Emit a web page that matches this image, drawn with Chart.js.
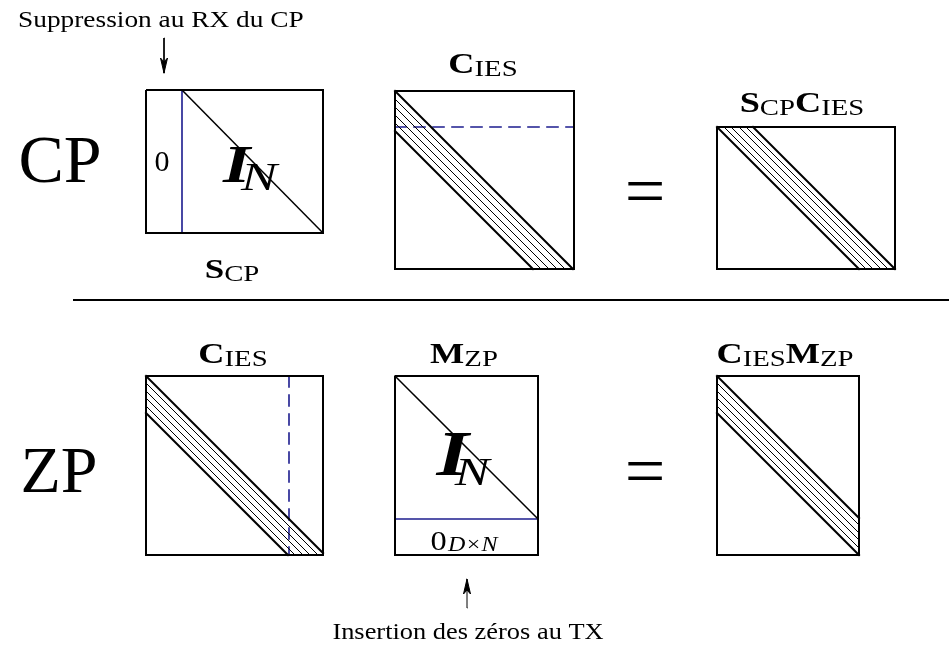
<!DOCTYPE html>
<html>
<head>
<meta charset="utf-8">
<script src="https://cdn.jsdelivr.net/npm/chart.js@4.4.0/dist/chart.umd.min.js"></script>
<style>
  html, body { margin: 0; padding: 0; background: #fff; }
  #wrap { width: 949px; height: 649px; position: relative; }
</style>
</head>
<body>
<div id="wrap"><canvas id="diagram"></canvas></div>
<script>
// Everything lives in one 949 x 649 data space (y grows downwards).
const BLUE = '#1c1c8e';
const SERIF = '"Liberation Serif", "DejaVu Serif", serif';

// matrix boxes: [left, top, right, bottom]
const boxes = [
  [146, 90, 323, 233],   // S_CP
  [395, 91, 574, 269],   // C_IES (top)
  [717, 127, 895, 269],  // S_CP C_IES
  [146, 376, 323, 555],  // C_IES (bottom)
  [395, 376, 538, 555],  // M_ZP
  [717, 376, 859, 555]   // C_IES M_ZP
];
// identity diagonals [x0, y0, x1, y1]
const identityDiagonals = [
  [182, 90, 323, 233],
  [395, 376, 538, 519]
];
// banded matrices: which box, and the offsets (y - x from its top-left corner) of the band lines
const bandBoxes = [1, 2, 3, 5];
const bandOffsets = [
  [0, 8, 16, 24, 32, 40],
  [0, -7, -14, -22, -29, -36],
  [0, 7, 15, 22, 30, 37],
  [0, 7, 15, 22, 30, 37]
];
const solidBlue = [[182, 90, 182, 233], [395, 519, 538, 519]];
const dashedBlue = [[395, 127, 574, 127], [289, 376, 289, 555]];
const separator = [74, 300, 949, 300];
// arrows: tail -> tip
const arrows = [[164, 38, 164, 73], [467, 608, 467, 579]];

// text: anchor x, baseline y, horizontal stretch, runs of [text, font, dx, dy]
const labels = [
  { x: 18, y: 27, sx: 1.14, align: 'left', runs: [['Suppression au RX du CP', '24px']] },
  { x: 60, y: 182, sx: 1, runs: [['CP', '68px']] },
  { x: 162, y: 171, sx: 1, runs: [['0', '30px']] },
  { x: 250, y: 182, sx: 1.35, runs: [['I', 'bold italic 52px'], ['N', 'italic 40px', -7, 8]] },
  { x: 232, y: 278, sx: 1.25, runs: [['S', 'bold 28px'], ['CP', '23px', 0, 3]] },
  { x: 483, y: 73, sx: 1.25, runs: [['C', 'bold 29px'], ['IES', '23px', 0, 3]] },
  { x: 645, y: 215, sx: 1, runs: [['=', '72px']] },
  { x: 802, y: 112, sx: 1.25, runs: [['S', 'bold 29px'], ['CP', '23px', 0, 3], ['C', 'bold 29px'], ['IES', '23px', 0, 3]] },
  { x: 59, y: 492, sx: 1, runs: [['ZP', '66px']] },
  { x: 233, y: 363, sx: 1.25, runs: [['C', 'bold 29px'], ['IES', '23px', 0, 3]] },
  { x: 464, y: 363, sx: 1.25, runs: [['M', 'bold 29px'], ['ZP', '23px', 0, 3]] },
  { x: 463, y: 475, sx: 1.3, runs: [['I', 'bold italic 64px'], ['N', 'italic 40px', -11, 10]] },
  { x: 464, y: 550, sx: 1.2, runs: [['0', '27px'], ['D\u00d7N', 'italic 20px', 1, 1]] },
  { x: 645, y: 495, sx: 1, runs: [['=', '72px']] },
  { x: 785, y: 363, sx: 1.25, runs: [['C', 'bold 29px'], ['IES', '23px', 0, 3], ['M', 'bold 29px'], ['ZP', '23px', 0, 3]] },
  { x: 468, y: 639, sx: 1.1, runs: [['Insertion des z\u00e9ros au TX', '24px']] }
];

function seg(x0, y0, x1, y1, color, width, dash) {
  return {
    type: 'line',
    data: [{ x: x0, y: y0 }, { x: x1, y: y1 }],
    borderColor: color,
    borderWidth: width,
    borderDash: dash || [],
    borderCapStyle: 'square',
    pointRadius: 0,
    fill: false,
    tension: 0
  };
}

function bandLine(box, c) {
  const [l, t, r, b] = box;
  const p0 = c >= 0 ? [l, t + c] : [l - c, t];
  const xb = l + (b - t) - c;
  const p1 = xb <= r ? [xb, b] : [r, t + (r - l) + c];
  return [p0[0], p0[1], p1[0], p1[1]];
}

const datasets = [];
boxes.forEach(([l, t, r, b]) => {
  datasets.push({
    type: 'line',
    data: [{ x: l, y: t }, { x: r, y: t }, { x: r, y: b }, { x: l, y: b }, { x: l, y: t }],
    borderColor: '#000', borderWidth: 2, borderJoinStyle: 'miter',
    pointRadius: 0, fill: false, tension: 0
  });
});
identityDiagonals.forEach(d => datasets.push(seg(...d, '#000', 1.5)));
bandBoxes.forEach((bi, k) => {
  const offs = bandOffsets[k];
  offs.forEach((c, j) => {
    const edge = j === 0 || j === offs.length - 1;
    datasets.push(seg(...bandLine(boxes[bi], c), '#000', edge ? 2 : 1));
  });
});
solidBlue.forEach(d => datasets.push(seg(...d, BLUE, 1.6)));
dashedBlue.forEach(d => datasets.push(seg(...d, BLUE, 1.6, [11, 8])));
datasets.push(seg(...separator, '#000', 2));
arrows.forEach(([x0, y0, x1, y1]) => {
  datasets.push(seg(x0, y0, x1, y1, '#000', 1));
  const dir = Math.sign(y1 - y0);
  // slender arrow head as a filled closed shape
  datasets.push({
    type: 'line',
    data: [{ x: x1, y: y1 }, { x: x1 - 3.5, y: y1 - dir * 15 }, { x: x1, y: y1 - dir * 11 }, { x: x1 + 3.5, y: y1 - dir * 15 }, { x: x1, y: y1 }],
    borderColor: '#000', backgroundColor: '#000', borderWidth: 1,
    pointRadius: 0, fill: 'shape', tension: 0
  });
});

const textPlugin = {
  id: 'diagramText',
  afterDatasetsDraw(chart) {
    const ctx = chart.ctx;
    const xs = chart.scales.x, ys = chart.scales.y;
    ctx.save();
    ctx.fillStyle = '#000';
    ctx.textBaseline = 'alphabetic';
    ctx.textAlign = 'left';
    labels.forEach(lab => {
      let total = 0;
      lab.runs.forEach(([txt, f, dx]) => {
        ctx.font = f + ' ' + SERIF;
        total += ctx.measureText(txt).width + (dx || 0);
      });
      let px = xs.getPixelForValue(lab.x);
      const py = ys.getPixelForValue(lab.y);
      if (lab.align !== 'left') px -= total * lab.sx / 2;
      ctx.save();
      ctx.translate(px, py);
      ctx.scale(lab.sx, 1);
      let cx = 0;
      lab.runs.forEach(([txt, f, dx, dy]) => {
        ctx.font = f + ' ' + SERIF;
        cx += dx || 0;
        ctx.fillText(txt, cx, dy || 0);
        cx += ctx.measureText(txt).width;
      });
      ctx.restore();
    });
    ctx.restore();
  }
};

new Chart(document.getElementById('diagram'), {
  type: 'line',
  data: { datasets },
  options: {
    responsive: true,
    maintainAspectRatio: false,
    animation: false,
    layout: { padding: 0 },
    plugins: { legend: { display: false }, tooltip: { enabled: false } },
    scales: {
      x: { type: 'linear', min: 0, max: 949, display: false },
      y: { type: 'linear', min: 0, max: 649, reverse: true, display: false }
    }
  },
  plugins: [textPlugin]
});
</script>
</body>
</html>
